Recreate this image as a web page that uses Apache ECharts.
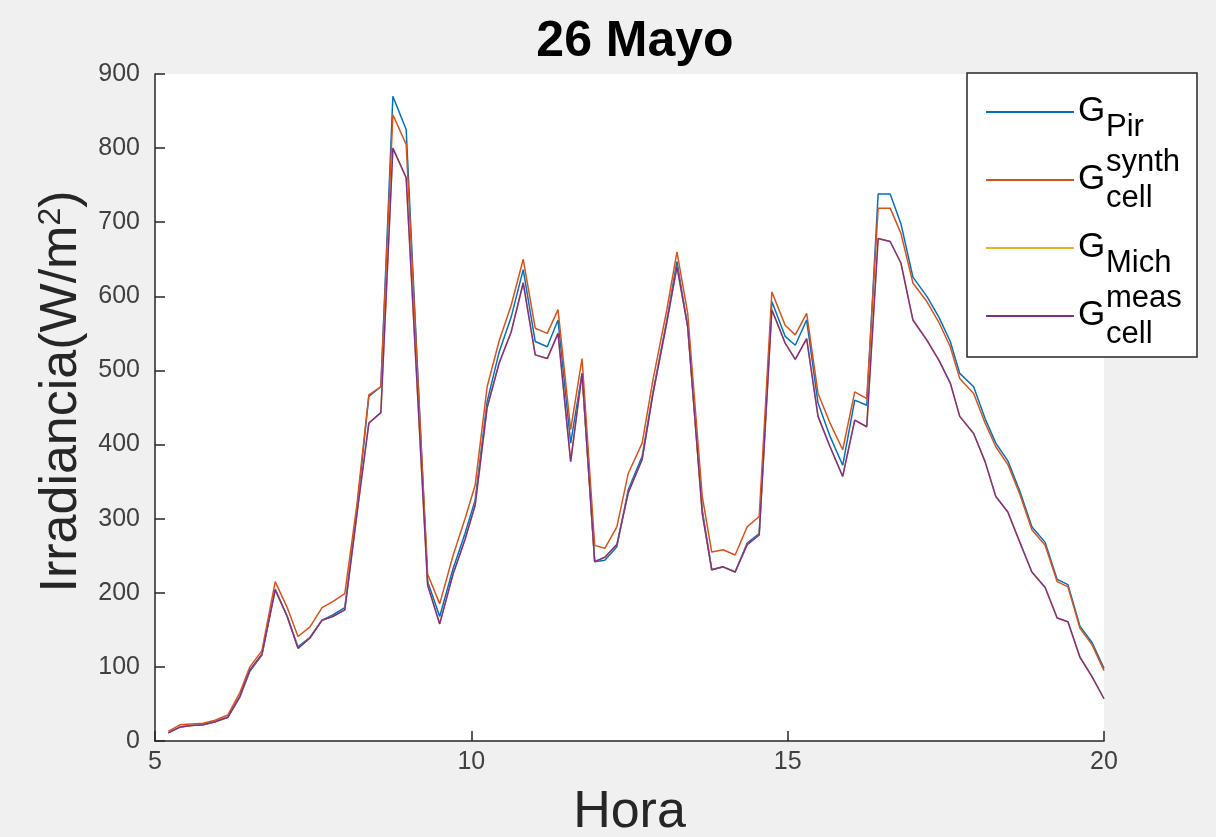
<!DOCTYPE html>
<html>
<head>
<meta charset="utf-8">
<script src="https://cdn.jsdelivr.net/npm/echarts@6/dist/echarts.min.js"></script>
<style>
  html, body { margin: 0; padding: 0; background: #f0f0f0; }
  #chart { width: 1216px; height: 837px; }
</style>
</head>
<body>
<div id="chart"></div>
<script>
// ---- Data (hours, W/m^2) ----
const hours = [5.21,5.40,5.57,5.76,5.95,6.15,6.34,6.50,6.69,6.90,7.09,7.26,7.45,7.64,7.81,8.00,
  8.19,8.38,8.57,8.76,8.97,9.31,9.50,9.71,9.90,
  10.06,10.25,10.44,10.63,10.82,11.01,11.20,11.37,11.57,11.75,11.95,
  12.11,12.30,12.48,12.70,12.87,13.09,13.25,13.42,13.65,13.80,13.98,
  14.17,14.36,14.55,14.75,14.96,15.12,15.30,15.48,15.67,15.87,
  16.06,16.25,16.43,16.62,16.79,16.98,17.20,17.39,17.57,17.72,17.94,
  18.12,18.29,18.48,18.67,18.86,19.07,19.26,19.43,19.62,19.81,20.00];

const gPir = [11,19,21,22,26,32,59,94,116,205,168,127,140,163,170,180,
  310,465,478,870,825,215,168,232,280,
  325,458,525,572,636,539,532,568,402,496,242,
  244,262,339,384,470,568,647,559,312,231,235,
  228,267,280,593,546,534,568,456,411,372,
  460,453,738,738,698,626,600,572,539,496,478,
  435,402,378,337,289,268,218,211,155,133,98];

const gSynthCell = [13,22,23,24,28,35,65,100,122,215,180,141,154,180,188,199,
  318,467,478,845,805,225,185,250,300,
  345,478,540,588,650,557,550,582,420,516,264,
  260,289,361,402,487,582,660,577,330,255,258,
  251,289,303,606,561,548,577,469,429,393,
  471,462,719,719,685,618,593,565,532,489,469,
  429,397,373,333,285,264,215,208,152,130,95];

const gMich = [11,19,21,22,26,32,60,96,117,204,168,125,139,163,168,177,
  305,429,443,800,760,210,158,225,272,
  318,450,510,552,618,521,516,550,377,496,242,
  248,265,335,380,468,565,640,559,307,231,235,
  228,265,278,582,537,515,543,438,397,357,
  433,424,678,674,645,568,541,514,483,438,415,
  377,330,309,268,228,207,166,161,113,87,57];

const gMeasCell = [11,19,21,22,26,32,60,96,117,204,168,125,139,163,168,177,
  305,429,443,800,760,210,158,225,272,
  318,450,510,552,618,521,516,550,377,496,242,
  248,265,335,380,468,565,640,559,307,231,235,
  228,265,278,582,537,515,543,438,397,357,
  433,424,678,674,645,568,541,514,483,438,415,
  377,330,309,268,228,207,166,161,113,87,57];

const xTicks = [5, 10, 15, 20];
const yTicks = [0, 100, 200, 300, 400, 500, 600, 700, 800, 900];

const seriesNames = ['GPir', 'GSynthCell', 'GMich', 'GMeasCell'];
// legend label parts: [base, subscript, superscript]
const legendBase = ['G', 'G', 'G', 'G'];
const legendSub = ['Pir', 'cell', 'Mich', 'cell'];
const legendSup = ['', 'synth', '', 'meas'];

const seriesValues = [gPir, gSynthCell, gMich, gMeasCell];
const seriesColors = ['#0072BD', '#D95319', '#EDB120', '#7E2F8E'];

const FONT = 'Liberation Sans, Arial, Helvetica, sans-serif';
const axisColor = '#262626';

const chart = echarts.init(document.getElementById('chart'), null, { renderer: 'canvas' });

// legend geometry
const LEG_LEFT = 967, LEG_TOP = 73, ITEM_STEP = 68, FIRST_ITEM = 112;
const TEXT_X = 1078, SCRIPT_X = 1106;

const legendTexts = [];
seriesNames.forEach(function (n, i) {
  const cy = FIRST_ITEM + i * ITEM_STEP;
  legendTexts.push({
    type: 'text', z: 100, x: TEXT_X, y: cy - 1,
    style: { text: legendBase[i], fontFamily: FONT, fontSize: 35, fill: '#000', align: 'left', verticalAlign: 'middle' }
  });
  if (legendSup[i]) {
    legendTexts.push({
      type: 'text', z: 100, x: SCRIPT_X, y: cy - 18,
      style: { text: legendSup[i], fontFamily: FONT, fontSize: 31, fill: '#000', align: 'left', verticalAlign: 'middle' }
    });
    legendTexts.push({
      type: 'text', z: 100, x: SCRIPT_X, y: cy + 18,
      style: { text: legendSub[i], fontFamily: FONT, fontSize: 31, fill: '#000', align: 'left', verticalAlign: 'middle' }
    });
  } else {
    legendTexts.push({
      type: 'text', z: 100, x: SCRIPT_X, y: cy + 15,
      style: { text: legendSub[i], fontFamily: FONT, fontSize: 31, fill: '#000', align: 'left', verticalAlign: 'middle' }
    });
  }
});

const option = {
  backgroundColor: '#f0f0f0',
  animation: false,
  title: {
    text: '26 Mayo',
    left: 630,
    textAlign: 'center',
    top: 12,
    textStyle: { fontFamily: FONT, fontSize: 50, fontWeight: 'bold', color: '#000' }
  },
  grid: {
    left: 155, top: 74, width: 949, height: 667,
    show: true, backgroundColor: '#ffffff', borderWidth: 0,
    containLabel: false,
    outerBoundsMode: 'none'
  },
  legend: {
    orient: 'vertical',
    left: LEG_LEFT, top: LEG_TOP,
    padding: [38, 123, 40, 19],
    itemGap: 66,
    itemWidth: 88,
    itemHeight: 2,
    icon: 'rect',
    backgroundColor: '#ffffff',
    borderColor: axisColor,
    borderWidth: 1.5,
    borderRadius: 0,
    data: seriesNames,
    formatter: function () { return ''; },
    textStyle: { fontFamily: FONT, fontSize: 2, color: '#000' }
  },
  graphic: { elements: legendTexts },
  xAxis: {
    type: 'value',
    min: xTicks[0], max: xTicks[xTicks.length - 1], interval: 5,
    name: 'Hora',
    nameLocation: 'middle',
    nameGap: 46,
    nameTextStyle: { fontFamily: FONT, fontSize: 52, color: axisColor, verticalAlign: 'top' },
    axisLine: { show: true, lineStyle: { color: axisColor, width: 1.5 } },
    axisTick: { show: true, inside: true, length: 10, lineStyle: { color: axisColor, width: 1.5 } },
    axisLabel: { fontFamily: FONT, fontSize: 25, color: '#404040', margin: 9 },
    splitLine: { show: false }
  },
  yAxis: {
    type: 'value',
    min: yTicks[0], max: yTicks[yTicks.length - 1], interval: 100,
    name: '{b|Irradiancia(W/m}{s|2}{b|)}',
    nameLocation: 'middle',
    nameGap: 59,
    nameRotate: 90,
    nameTextStyle: {
      fontFamily: FONT, fontSize: 52, color: axisColor,
      padding: [0, 0, 0, 32],
      rich: {
        b: { fontFamily: FONT, fontSize: 52, lineHeight: 60, verticalAlign: 'top', color: axisColor },
        s: { fontFamily: FONT, fontSize: 32, lineHeight: 30, verticalAlign: 'top', color: axisColor }
      }
    },
    axisLine: { show: true, lineStyle: { color: axisColor, width: 1.5 } },
    axisTick: { show: true, inside: true, length: 10, lineStyle: { color: axisColor, width: 1.5 } },
    axisLabel: { fontFamily: FONT, fontSize: 25, color: '#404040', margin: 15 },
    splitLine: { show: false }
  },
  series: seriesNames.map(function (name, i) {
    return {
      name: name,
      type: 'line',
      data: hours.map(function (h, k) { return [h, seriesValues[i][k]]; }),
      symbol: 'none',
      showSymbol: false,
      lineStyle: { color: seriesColors[i], width: 1.5 },
      itemStyle: { color: seriesColors[i] },
      z: 2 + i
    };
  })
};

chart.setOption(option);
</script>
</body>
</html>
